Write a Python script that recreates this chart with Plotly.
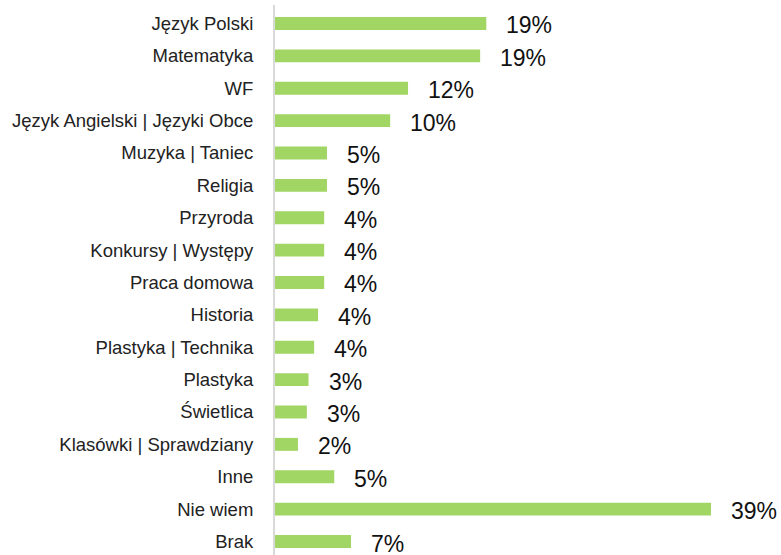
import plotly.graph_objects as go

categories = ["Język Polski", "Matematyka", "WF", "Język Angielski | Języki Obce",
              "Muzyka | Taniec", "Religia", "Przyroda", "Konkursy | Występy",
              "Praca domowa", "Historia", "Plastyka | Technika", "Plastyka",
              "Świetlica", "Klasówki | Sprawdziany", "Inne", "Nie wiem", "Brak"]
values = [18.9, 18.35, 11.9, 10.3, 4.65, 4.65, 4.4, 4.4, 4.4, 3.85, 3.5, 3.0,
          2.85, 2.05, 5.3, 39.0, 6.8]
labels = ["19%", "19%", "12%", "10%", "5%", "5%", "4%", "4%", "4%", "4%", "4%",
          "3%", "3%", "2%", "5%", "39%", "7%"]

fig = go.Figure(go.Bar(
    x=values, y=categories, orientation="h",
    marker=dict(color="#A1D665", line=dict(width=0)),
    width=0.4, hoverinfo="skip"))

for c, v, t in zip(categories, values, labels):
    fig.add_annotation(x=v, y=c, text=t, showarrow=False, xanchor="left",
                       xshift=18, yshift=-2,
                       font=dict(family="Liberation Sans, Arial", size=23, color="#111"))

fig.update_layout(
    width=781, height=555,
    margin=dict(l=275, r=0, t=5, b=0),
    paper_bgcolor="white", plot_bgcolor="white",
    showlegend=False,
    font=dict(family="Liberation Sans, Arial", size=16, color="#222"),
    xaxis=dict(range=[0, 45.26], showgrid=False, zeroline=False, automargin=False,
               showticklabels=False, showline=False, fixedrange=True),
    yaxis=dict(categoryorder="array", categoryarray=categories, automargin=False,
               range=[16.417, -0.571], showgrid=False, zeroline=False,
               showline=True, linecolor="#D9D9D9", linewidth=2,
               ticks="", ticklabelstandoff=16, fixedrange=True,
               tickfont=dict(family="Liberation Sans, Arial", size=18.5, color="#222")),
)

fig.write_html("out.html", config={"displayModeBar": False},
               post_script="document.body.style.margin='0';document.body.style.overflow='hidden';")
